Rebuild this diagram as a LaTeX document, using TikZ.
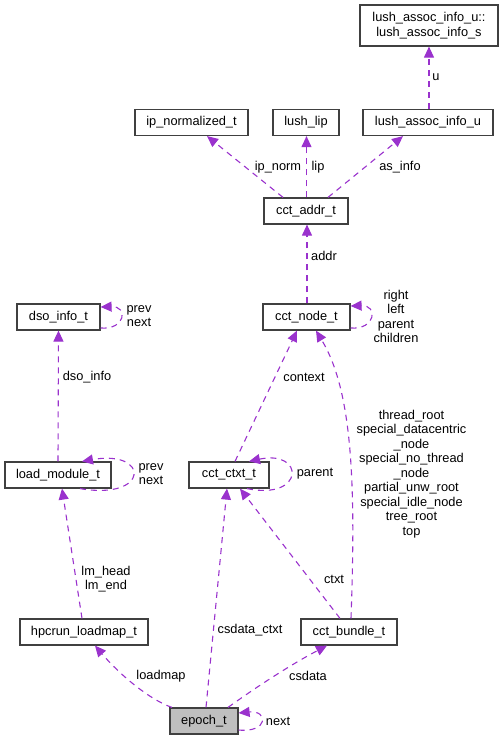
\documentclass[tikz,border=0pt]{standalone}
\usepackage{fontspec}
\setmainfont{Liberation Sans}
\usetikzlibrary{arrows.meta}

\definecolor{memberpurple}{HTML}{9A32CD}
\definecolor{focusgray}{HTML}{BFBFBF}

\begin{document}
\begin{tikzpicture}[
			x=1pt, y=-1pt,
			% Node styles
			struct/.style={
					rectangle, draw=black!75, line width=1.2pt, fill=white,
					minimum height=26pt, inner sep=0pt, align=center,
					font=\fontsize{12.8}{14.5}\selectfont,
				},
			focus struct/.style={
					struct, fill=focusgray,
				},
			% Edge/arrow style for member references
			member/.style={
					draw=memberpurple, line width=1.1pt, dash pattern=on 6pt off 5pt,
					-{Triangle[length=11pt, width=10pt]},
				},
			member label/.style={
					font=\fontsize{12.8}{14.5}\selectfont, align=center, inner sep=0pt,
				},
		]
		\useasboundingbox (0,0) rectangle (504,740);

		% --- Structs ---
		\node[struct, minimum width=138pt, minimum height=41pt] (infos) at (429,25.5)
		{lush\_assoc\_info\_u::\\lush\_assoc\_info\_s};
		\node[struct, minimum width=113pt] (ipnorm) at (191.5,122.5) {ip\_normalized\_t};
		\node[struct, minimum width=66pt] (lip) at (306,122.5) {lush\_lip};
		\node[struct, minimum width=130pt] (assoc) at (428,122.5) {lush\_assoc\_info\_u};
		\node[struct, minimum width=84pt] (addr) at (306,211) {cct\_addr\_t};
		\node[struct, minimum width=83pt] (dso) at (58.5,317) {dso\_info\_t};
		\node[struct, minimum width=87pt] (cctnode) at (306.5,317) {cct\_node\_t};
		\node[struct, minimum width=106pt] (lm) at (58,475) {load\_module\_t};
		\node[struct, minimum width=80pt] (ctxt) at (229,475) {cct\_ctxt\_t};
		\node[struct, minimum width=128pt] (loadmap) at (84,632) {hpcrun\_loadmap\_t};
		\node[struct, minimum width=96pt] (bundle) at (349,632) {cct\_bundle\_t};
		\node[focus struct, minimum width=68pt] (epoch) at (204,721) {epoch\_t};

		% --- Member edges (arrow points at the member's type) ---
		\draw[member] ([xshift=1pt]assoc.north) -- (infos.south);
		\draw[member] ([xshift=-23pt]addr.north) -- ([xshift=15.5pt]ipnorm.south);
		\draw[member] ([xshift=0.5pt]addr.north) -- ([xshift=0.5pt]lip.south);
		\draw[member] ([xshift=22pt]addr.north) -- ([xshift=-25pt]assoc.south);
		\draw[member] ([xshift=0.5pt]cctnode.north) -- ([xshift=1pt]addr.south);
		\draw[member] (lm.north) -- (dso.south);
		\draw[member] ([xshift=6pt]ctxt.north) -- ([xshift=-9.5pt]cctnode.south);
		\draw[member] ([xshift=2pt]bundle.north) .. controls (356,480) and (352,390) .. ([xshift=9.5pt]cctnode.south);
		\draw[member] ([xshift=-9pt]bundle.north) -- ([xshift=11pt]ctxt.south);
		\draw[member] ([xshift=2pt]epoch.north) -- ([xshift=-2pt]ctxt.south);
		\draw[member] ([xshift=-2pt]loadmap.north) -- ([xshift=4pt]lm.south);
		\draw[member] ([xshift=-32pt]epoch.north) .. controls (150,700) and (120,675) .. ([xshift=11pt]loadmap.south);
		\draw[member] ([xshift=24pt]epoch.north) .. controls (255,688) and (290,665) .. ([xshift=-22pt]bundle.south);

		% self references
		\draw[member] ([yshift=-11pt]cctnode.east) .. controls +(25,2) and +(28,-1) .. ([yshift=11pt]cctnode.east);
		\draw[member] ([yshift=-11pt]dso.east) .. controls +(25,2) and +(28,-1) .. ([yshift=10pt]dso.east);
		\draw[member] ([xshift=22pt]lm.south) .. controls +(70,12) and +(68,-12) .. ([xshift=24pt]lm.north);
		\draw[member] ([xshift=18pt]ctxt.south) .. controls +(58,12) and +(56,-12) .. ([xshift=20pt]ctxt.north);
		\draw[member] ([yshift=-9pt]epoch.east) .. controls +(30,3) and +(30,-3) .. ([yshift=8pt]epoch.east);

		% --- Member names ---
		\node[member label] (l-u) at (436,77) {u};
		\node[member label] (l-ipnorm) at (278,167) {ip\_norm};
		\node[member label] (l-lip) at (318,167) {lip};
		\node[member label] (l-asinfo) at (400,167) {as\_info};
		\node[member label] (l-addr) at (324,256) {addr};
		\node[member label] (l-tree) at (396,316.5) {right\\left\\parent\\children};
		\node[member label] (l-dsolink) at (139,316) {prev\\next};
		\node[member label] (l-dsoinfo) at (87,377) {dso\_info};
		\node[member label] (l-lmlink) at (151,474) {prev\\next};
		\node[member label] (l-context) at (304,377) {context};
		\node[member label] (l-parent) at (315,474) {parent};
		\node[member label] (l-roots) at (411.5,474)
		{thread\_root\\special\_datacentric\\\_node\\special\_no\_thread\\\_node\\partial\_unw\_root\\special\_idle\_node\\tree\_root\\top};
		\node[member label] (l-ctxt) at (334,579) {ctxt};
		\node[member label] (l-lm) at (106,579) {lm\_head\\lm\_end};
		\node[member label] (l-csctxt) at (250,630) {csdata\_ctxt};
		\node[member label] (l-loadmap) at (161,676) {loadmap};
		\node[member label] (l-csdata) at (308,676) {csdata};
		\node[member label] (l-next) at (278,721) {next};

	\end{tikzpicture}
\end{document}
